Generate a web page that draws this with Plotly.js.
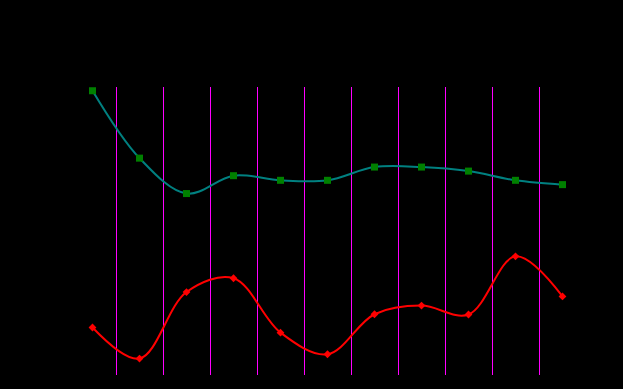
<!DOCTYPE html>
<html>
<head>
<meta charset="utf-8">
<script src="https://cdn.plot.ly/plotly-3.0.1.min.js"></script>
<style>
  html, body { margin: 0; padding: 0; background: #000; }
  #chart { width: 623px; height: 389px; }
</style>
</head>
<body>
<div id="chart"></div>
<script>
const categories = [0, 1, 2, 3, 4, 5, 6, 7, 8, 9, 10];
const seriesA = [98.7, 75.3, 63.0, 69.2, 67.6, 67.6, 72.2, 72.2, 70.8, 67.6, 66.1];
const seriesB = [16.5, 5.7, 28.8, 33.6, 14.7, 7.2, 21.1, 24.1, 21.0, 41.2, 27.3];

const gridVals = categories.slice(1).map(function (c) { return c - 0.5; });

const traces = [
  {
    x: categories, y: seriesA, type: 'scatter', mode: 'lines+markers',
    line: { shape: 'spline', color: '#008080', width: 2 },
    marker: { symbol: 'square', size: 7, color: '#008000' },
    name: 'A'
  },
  {
    x: categories, y: seriesB, type: 'scatter', mode: 'lines+markers',
    line: { shape: 'spline', color: '#ff0000', width: 2 },
    marker: { symbol: 'diamond', size: 6, color: '#ff0000' },
    name: 'B'
  }
];

const layout = {
  width: 623, height: 389,
  paper_bgcolor: '#000000', plot_bgcolor: '#000000',
  margin: { l: 69, r: 37, t: 87, b: 14 },
  showlegend: false,
  xaxis: {
    range: [-0.5, 10.5], tickvals: gridVals, showticklabels: false,
    showgrid: true, gridcolor: '#ff00ff', gridwidth: 1,
    zeroline: false, showline: false, ticks: ''
  },
  yaxis: {
    range: [0, 100], showgrid: false, showticklabels: false,
    zeroline: false, showline: false, ticks: ''
  }
};

Plotly.newPlot('chart', traces, layout, { displayModeBar: false, staticPlot: true });
</script>
</body>
</html>
